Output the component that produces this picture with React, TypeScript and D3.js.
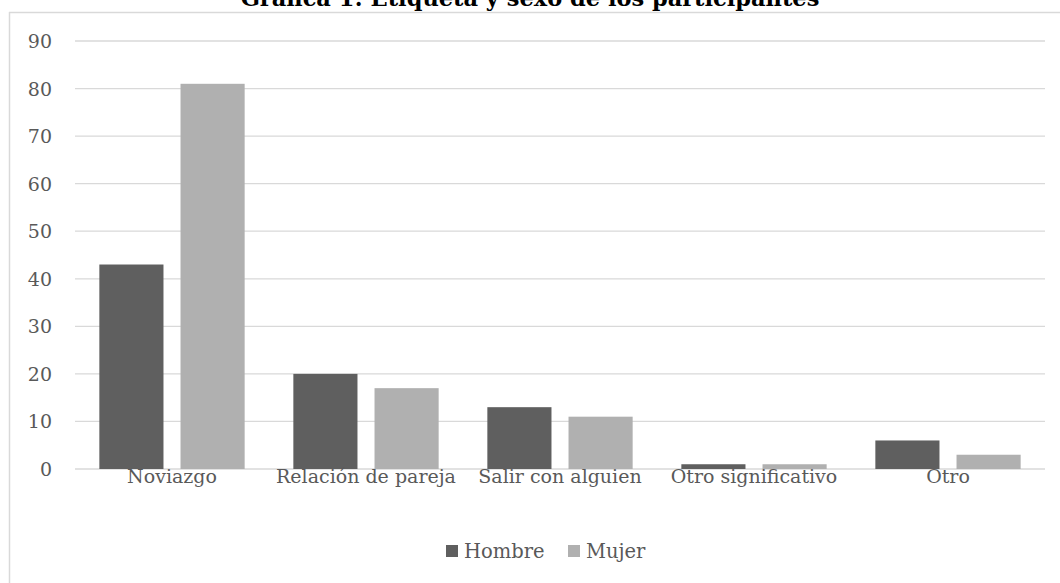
import * as React from 'react';
import * as d3 from 'd3';

const categories = ['Noviazgo', 'Relación de pareja', 'Salir con alguien', 'Otro significativo', 'Otro'];
const hombre = [43, 20, 13, 1, 6];
const mujer = [81, 17, 11, 1, 3];
const seriesNames = ['Hombre', 'Mujer'];
const yTicks = [0, 10, 20, 30, 40, 50, 60, 70, 80, 90];

const colors = ['#5f5f5f', '#b0b0b0'];
const font = '"DejaVu Serif", serif';

export default function App() {
  const width = 1060;
  const height = 583;
  const left = 75, right = 1045, top = 41, bottom = 469;

  const x = d3.scaleBand<string>().domain(categories).range([left, right]);
  const y = d3.scaleLinear().domain([0, 90]).range([bottom, top]);
  const inner = d3.scaleBand<string>().domain(seriesNames).range([0, x.bandwidth()]).paddingInner(0.21).paddingOuter(0.3);

  const series = [hombre, mujer];

  return (
    <svg width={width} height={height} style={{ position: 'absolute', left: 0, top: 0 }}>
      <rect x={0} y={0} width={width} height={height} fill="#fff" />
      <line x1={9.5} x2={9.5} y1={12} y2={height} stroke="#d9d9d9" strokeWidth={1.5} />
      <line x1={9} x2={width} y1={12.5} y2={12.5} stroke="#d9d9d9" strokeWidth={1.5} />
      <text x={530} y={6} textAnchor="middle" fontFamily={font} fontWeight="bold" fontSize={22.5} fill="#000">
        Gráfica 1: Etiqueta y sexo de los participantes
      </text>
      {yTicks.map(t => (
        <g key={t}>
          <line x1={left} x2={right} y1={y(t)} y2={y(t)} stroke="#d9d9d9" strokeWidth={t === 0 ? 1.5 : 1.3} />
          <text x={52} y={y(t) + 7} textAnchor="end" fontFamily={font} fontSize={19} fill="#595959">{t}</text>
        </g>
      ))}
      {categories.map((c, i) => (
        <g key={c}>
          {series.map((s, j) => (
            <rect key={j}
              x={(x(c) as number) + (inner(seriesNames[j]) as number)}
              y={y(s[i])}
              width={inner.bandwidth()}
              height={bottom - y(s[i])}
              fill={colors[j]} />
          ))}
          <text x={(x(c) as number) + x.bandwidth() / 2} y={483} textAnchor="middle" fontFamily={font} fontSize={19} fill="#595959">{c}</text>
        </g>
      ))}
      <g>
        <rect x={446} y={545} width={12} height={12} fill={colors[0]} />
        <text x={464} y={558} fontFamily={font} fontSize={19.5} fill="#595959">{seriesNames[0]}</text>
        <rect x={568} y={545} width={12} height={12} fill={colors[1]} />
        <text x={586} y={558} fontFamily={font} fontSize={19.5} fill="#595959">{seriesNames[1]}</text>
      </g>
    </svg>
  );
}
